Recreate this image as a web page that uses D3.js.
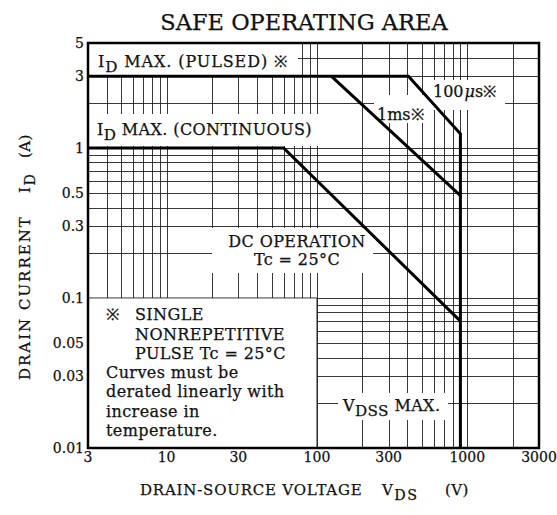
<!DOCTYPE html>
<html>
<head>
<meta charset="utf-8">
<script src="https://cdn.jsdelivr.net/npm/d3@7"></script>
<style>
  body { margin: 0; background: #fff; }
  svg { display: block; }
  text { font-family: "DejaVu Serif", serif; fill: #111; stroke: #111; stroke-width: 0.25; }
</style>
</head>
<body>
<div id="chart"></div>
<script>
// axis ticks
const xTickValues = [3, 10, 30, 100, 300, 1000, 3000];
const yTickValues = [0.01, 0.03, 0.05, 0.1, 0.3, 0.5, 1, 3, 5];
const yTickLabels = ["0.01", "0.03", "0.05", "0.1", "0.3", "0.5", "1", "3", "5"];

// SOA limit curves: drain-source voltage (V) and drain current (A)
const pulse100usV = [3, 406, 900, 900];
const pulse100usI = [3, 3, 1.24, 0.01];
const pulse1msV = [125, 900];
const pulse1msI = [3, 0.48];
const dcV = [3, 60, 900];
const dcI = [1, 1, 0.07];

const width = 557, height = 515;
const margin = { top: 43, right: 18, bottom: 67, left: 88 };
const FS = 16; // label font size

const svg = d3.select("#chart").append("svg")
    .attr("width", width)
    .attr("height", height);

const x = d3.scaleLog().domain([3, 3000]).range([margin.left, width - margin.right]);
const y = d3.scaleLog().domain([0.01, 5]).range([height - margin.bottom, margin.top]);

// grid lines
const grid = svg.append("g").attr("stroke", "#222").attr("stroke-width", 0.9);
grid.selectAll("line.v")
    .data(x.ticks().filter(d => d > 3 && d < 3000))
    .join("line")
    .attr("x1", d => Math.round(x(d)) + 0.5).attr("x2", d => Math.round(x(d)) + 0.5)
    .attr("y1", y(5)).attr("y2", y(0.01));
grid.selectAll("line.h")
    .data(y.ticks().filter(d => d > 0.01 && d < 5))
    .join("line")
    .attr("y1", d => Math.round(y(d)) + 0.5).attr("y2", d => Math.round(y(d)) + 0.5)
    .attr("x1", x(3)).attr("x2", x(3000));

// white boxes behind the labels (grid is broken there)
const boxes = [
  [89, 44, 209, 32],    // ID MAX pulsed
  [89, 114, 231, 32],   // ID MAX continuous
  [374, 95, 56, 28],    // 1ms
  [428, 80, 77, 30],    // 100us
  [212, 228, 161, 45],  // DC operation
  [338, 393, 110, 27],  // VDSS MAX
  [89, y(0.1), x(100) - 89, y(0.01) - y(0.1)] // note box
];
svg.append("g").selectAll("rect")
    .data(boxes)
    .join("rect")
    .attr("x", d => d[0]).attr("y", d => d[1])
    .attr("width", d => d[2]).attr("height", d => d[3])
    .attr("fill", "#fff");

// note box edge lines follow the grid
svg.append("line")
    .attr("x1", x(3)).attr("x2", x(100)).attr("y1", y(0.1)).attr("y2", y(0.1))
    .attr("stroke", "#222").attr("stroke-width", 0.9);
svg.append("line")
    .attr("x1", x(100)).attr("x2", x(100)).attr("y1", y(0.1)).attr("y2", y(0.01))
    .attr("stroke", "#222").attr("stroke-width", 0.9);

// curves
const line = d3.line().x(d => x(d[0])).y(d => y(d[1]));
const curves = [
  d3.zip(pulse100usV, pulse100usI),
  d3.zip(pulse1msV, pulse1msI),
  d3.zip(dcV, dcI)
];
svg.append("g").selectAll("path")
    .data(curves)
    .join("path")
    .attr("d", line)
    .attr("fill", "none")
    .attr("stroke", "#000")
    .attr("stroke-width", 3)
    .attr("stroke-linejoin", "miter");

// plot border
svg.append("rect")
    .attr("x", x(3)).attr("y", y(5))
    .attr("width", x(3000) - x(3)).attr("height", y(0.01) - y(5))
    .attr("fill", "none").attr("stroke", "#000").attr("stroke-width", 2.5);

// tick labels
svg.append("g").selectAll("text")
    .data(xTickValues)
    .join("text")
    .attr("x", d => x(d)).attr("y", 462)
    .attr("text-anchor", "middle")
    .attr("font-size", 14)
    .text(d => d);
svg.append("g").selectAll("text")
    .data(yTickValues)
    .join("text")
    .attr("x", 84).attr("y", d => y(d) + 5)
    .attr("text-anchor", "end")
    .attr("font-size", 14)
    .text((d, i) => yTickLabels[i]);

// text helper with subscripts: parts = [[str, isSub, isReturn], ...]
function label(g, px, py, parts, size, anchor) {
  const t = g.append("text")
      .attr("x", px).attr("y", py)
      .attr("font-size", size)
      .attr("letter-spacing", 0.4)
      .attr("text-anchor", anchor || "start");
  parts.forEach(p => {
    const s = t.append("tspan").text(p[0]);
    if (p[1]) s.attr("dy", size * 0.3).attr("font-size", size * 0.95);
    else if (p[2]) s.attr("dy", -size * 0.3);
  });
  return t;
}

label(svg, 304, 30, [["SAFE OPERATING AREA"]], 22.5, "middle").attr("letter-spacing", 0);

label(svg, 98, 67, [["I"], ["D", true], [" MAX. (PULSED) ※", false, true]], FS).attr("letter-spacing", 0.9);
label(svg, 97, 135, [["I"], ["D", true], [" MAX. (CONTINUOUS)", false, true]], FS);
label(svg, 377, 120, [["1ms※"]], FS).attr("letter-spacing", 0);
const us = label(svg, 433, 97, [["100"]], FS).attr("letter-spacing", 0);
us.append("tspan").attr("font-style", "italic").attr("dx", 1).text("μ");
us.append("tspan").text("s※");

label(svg, 297, 247, [["DC OPERATION"]], FS, "middle");
label(svg, 297, 265, [["Tc = 25°C"]], FS, "middle");
label(svg, 343, 411, [["V"], ["DSS", true], [" MAX.", false, true]], FS);

const notes = [["※"], ["SINGLE"], ["NONREPETITIVE"], ["PULSE Tc = 25°C"],
  ["Curves must be"], ["derated linearly with"], ["increase in"], ["temperature."]];
label(svg, 106, 320, [notes[0]], FS);
[1, 2, 3].forEach((k, i) => label(svg, 135, 320 + i * 19.5, [notes[k]], FS));
[4, 5, 6, 7].forEach((k, i) => label(svg, 106, 378 + i * 19.3, [notes[k]], FS));

// axis titles
label(svg, 140, 495, [["DRAIN-SOURCE VOLTAGE"]], 15).attr("letter-spacing", 0.8);
label(svg, 382, 495, [["V"], ["DS", true]], 15).attr("letter-spacing", 1.5);
label(svg, 445, 495, [["(V)"]], 15);

const yt = svg.append("g").attr("transform", "translate(30,0) rotate(-90)");
label(yt, -380, 0, [["DRAIN CURRENT"]], 15).attr("letter-spacing", 2.0);
label(yt, -193, 0, [["I"], ["D", true]], 15).attr("letter-spacing", 1.5);
label(yt, -158, 0, [["(A)"]], 15);
</script>
</body>
</html>
